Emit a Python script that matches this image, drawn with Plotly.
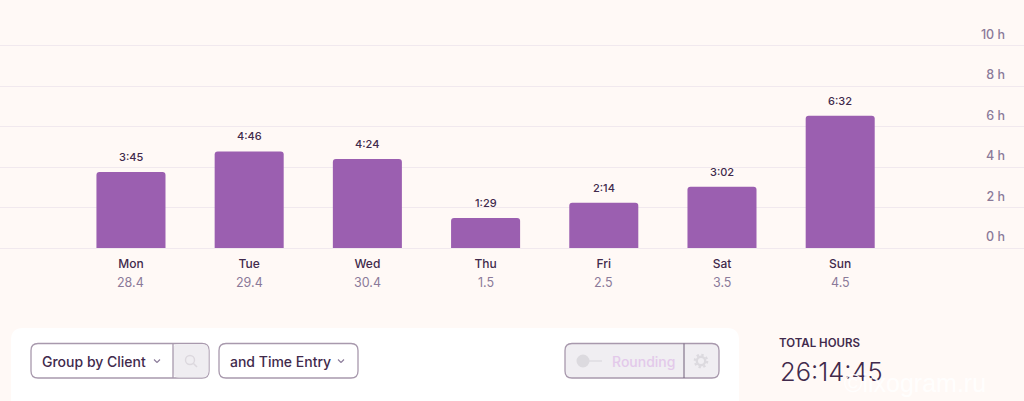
import plotly.graph_objects as go

days = ["Mon", "Tue", "Wed", "Thu", "Fri", "Sat", "Sun"]
hours = [3.75, 4.77, 4.40, 1.48, 2.23, 3.03, 6.53]
durations = ["3:45", "4:46", "4:24", "1:29", "2:14", "3:02", "6:32"]
dates = ["28.4", "29.4", "30.4", "1.5", "2.5", "3.5", "4.5"]
y_ticks = [0, 2, 4, 6, 8, 10]
y_labels = ["0 h", "2 h", "4 h", "6 h", "8 h", "10 h"]

W, H = 1024, 401
BG = "#fff9f6"
BAR = "#9b5fb0"
DARK = "#412a4c"
MUTED = "#8b7a99"
GRID = "#f1e9ee"
BORDER = "#a899ad"
FONT = "Inter"


def px(x):
    return x / W


def py(y):
    return 1 - y / H


def rrect(x0, y0, x1, y1, r, fill, line=None, width=1.3):
    path = (
        f"M {px(x0 + r)} {py(y0)} L {px(x1 - r)} {py(y0)} "
        f"Q {px(x1)} {py(y0)} {px(x1)} {py(y0 + r)} L {px(x1)} {py(y1 - r)} "
        f"Q {px(x1)} {py(y1)} {px(x1 - r)} {py(y1)} L {px(x0 + r)} {py(y1)} "
        f"Q {px(x0)} {py(y1)} {px(x0)} {py(y1 - r)} L {px(x0)} {py(y0 + r)} "
        f"Q {px(x0)} {py(y0)} {px(x0 + r)} {py(y0)} Z"
    )
    return dict(type="path", xref="paper", yref="paper", path=path, fillcolor=fill,
                line=dict(color=line or fill, width=width if line else 0))


def seg(x0, y0, x1, y1, color, width=1.3):
    return dict(type="line", xref="paper", yref="paper", x0=px(x0), y0=py(y0), x1=px(x1), y1=py(y1),
                line=dict(color=color, width=width))


def circ(cx, cy, r, fill, line=None, width=1.5, dash=None):
    return dict(type="circle", xref="paper", yref="paper", x0=px(cx - r), x1=px(cx + r),
                y0=py(cy + r), y1=py(cy - r), fillcolor=fill,
                line=dict(color=line or fill, width=width if line else 0, dash=dash or "solid"))


def chevron(cx, cy, color=MUTED):
    return [seg(cx - 3, cy - 1.5, cx, cy + 1.5, color, 1.1), seg(cx, cy + 1.5, cx + 3, cy - 1.5, color, 1.1)]


def label(x, y, text, size, color=DARK, anchor="left", weight=400, family=FONT):
    return dict(xref="paper", yref="paper", x=px(x), y=py(y), text=text, showarrow=False,
                xanchor=anchor, yanchor="middle", align=anchor, xshift=-2,
                font=dict(size=size, color=color, family=family, weight=weight))


shapes = [
    rrect(11, 328, 739, 440, 12, "#ffffff"),
    rrect(31, 343.5, 209, 378, 7, "#ffffff", BORDER),
    rrect(173, 344, 208.5, 377.5, 6, "#efedf1"),
    seg(173, 343.5, 173, 378, BORDER),
    circ(190, 360, 4.5, "rgba(0,0,0,0)", "#dcd8de", 1.4),
    seg(193.5, 363.5, 197, 367, "#dcd8de", 1.5),
    rrect(219, 343.5, 358, 378, 7, "#ffffff", BORDER),
    rrect(565, 343.5, 719, 378, 7, "#f0eef2", BORDER),
    seg(684, 343.5, 684, 378, "#6f5f78", 1),
    circ(583, 361, 6.5, "#dcdadf"),
    seg(589, 361, 602, 361, "#dcdadf", 1.3),
    circ(701, 361, 6.2, "rgba(0,0,0,0)", "#dcdadf", 2.2, dash="2.4px,2.4px"),
    circ(701, 361, 4.2, "rgba(0,0,0,0)", "#dcdadf", 2.4),
] + chevron(157, 361) + chevron(341, 361)

annotations = [
    label(42, 361.5, "Group by Client", 14, weight=500),
    label(230, 361.5, "and Time Entry", 14, weight=500),
    label(612, 361.5, "Rounding", 14, "#e3c9ea", weight=500),
    label(779, 342.5, "TOTAL HOURS", 11.5, weight=600),
    label(780, 371, "26:14:45", 25.5, weight=300),
    label(844, 383, "©lixogram.ru", 25, "rgba(255,255,255,0.9)", family="Liberation Sans"),
]
for d, t in zip(days, dates):
    annotations.append(dict(x=d, y=0, xref="x", yref="y", yshift=-34, text=t, showarrow=False,
                            yanchor="middle", font=dict(size=12.5, color=MUTED, family=FONT)))
for d, v, t in zip(days, hours, durations):
    annotations.append(dict(x=d, y=v, xref="x", yref="y", yshift=15, text=t, showarrow=False,
                            yanchor="middle", font=dict(size=11, color=DARK, family=FONT, weight=500)))

fig = go.Figure(go.Bar(
    x=days, y=hours, marker=dict(color=BAR, line=dict(width=0)), width=0.584, hoverinfo="skip",
))
fig.update_layout(
    width=W, height=H, autosize=False, margin=dict(l=0, r=0, t=0, b=0),
    paper_bgcolor=BG, plot_bgcolor="rgba(0,0,0,0)", showlegend=False, barcornerradius=3,
    font=dict(family=FONT), shapes=shapes, annotations=annotations,
    xaxis=dict(type="category", categoryorder="array", categoryarray=days,
               range=[-1.108, 7.555], domain=[0, 1], showgrid=False, zeroline=False, showline=False,
               anchor="free", position=153 / H,
               ticks="", tickfont=dict(size=12, color=DARK, family=FONT, weight=500), ticklabelstandoff=7),
    yaxis=dict(domain=[0, 1], range=[-153 / 20.25, 248 / 20.25], side="right", tickmode="array",
               tickvals=y_ticks, ticktext=y_labels, ticklabelposition="inside",
               ticklabelstandoff=16, ticklabelshift=-11,
               tickfont=dict(size=12.5, color=MUTED, family=FONT, weight=500),
               showgrid=True, gridcolor=GRID, gridwidth=1, zeroline=False, showline=False, ticks=""),
)
fig.write_html("out.html", config=dict(displayModeBar=False),
               post_script="document.body.style.margin='0';document.body.style.overflow='hidden';")
